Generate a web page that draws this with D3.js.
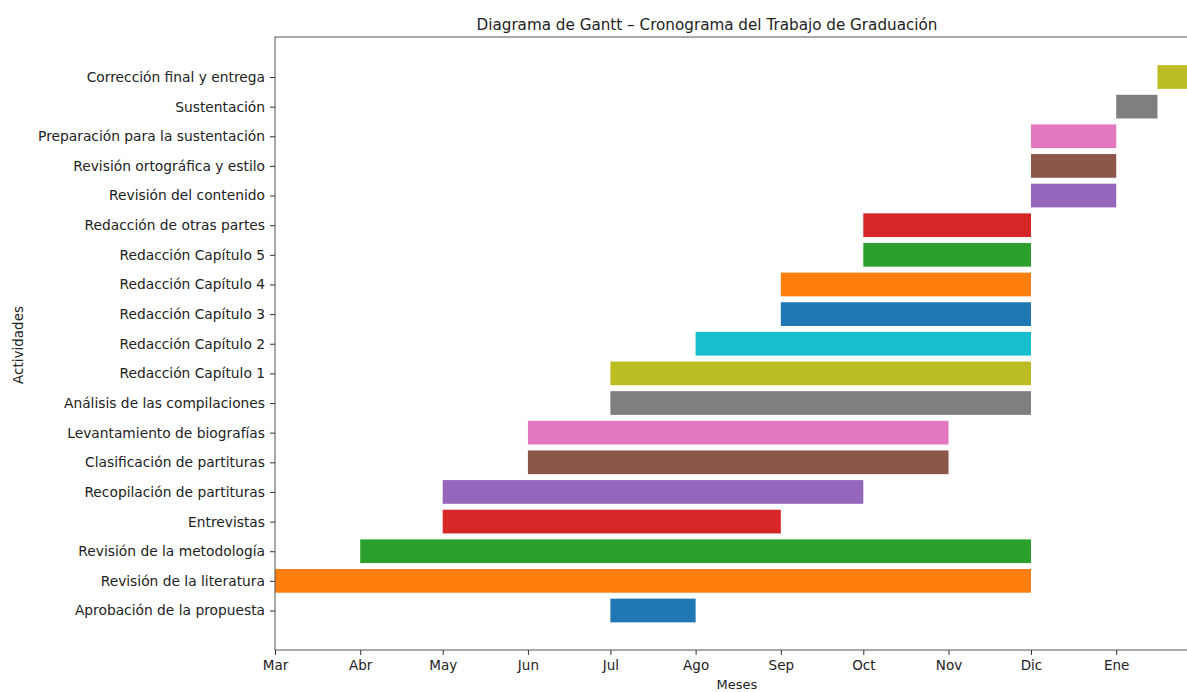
<!doctype html>
<html>
<head>
  <meta charset="utf8">
  <title>gantt</title>
  <style>
    body { margin: 0; padding: 0; background: #fff; overflow: hidden; }
    svg { display: block; font-family: 'DejaVu Sans', sans-serif; }
  </style>
</head>
<body>
  <svg></svg>
  <script src="https://d3js.org/d3.v7.min.js"></script>
  <script>
    // activities, bottom to top
    const tasks = [
      'Aprobación de la propuesta',
      'Revisión de la literatura',
      'Revisión de la metodología',
      'Entrevistas',
      'Recopilación de partituras',
      'Clasificación de partituras',
      'Levantamiento de biografías',
      'Análisis de las compilaciones',
      'Redacción Capítulo 1',
      'Redacción Capítulo 2',
      'Redacción Capítulo 3',
      'Redacción Capítulo 4',
      'Redacción Capítulo 5',
      'Redacción de otras partes',
      'Revisión del contenido',
      'Revisión ortográfica y estilo',
      'Preparación para la sustentación',
      'Sustentación',
      'Corrección final y entrega'
    ]
    const starts = [
      '2023-07-01', '2023-03-01', '2023-04-01', '2023-05-01', '2023-05-01',
      '2023-06-01', '2023-06-01', '2023-07-01', '2023-07-01', '2023-08-01',
      '2023-09-01', '2023-09-01', '2023-10-01', '2023-10-01', '2023-12-01',
      '2023-12-01', '2023-12-01', '2024-01-01', '2024-01-16'
    ]
    const ends = [
      '2023-08-01', '2023-12-01', '2023-12-01', '2023-09-01', '2023-10-01',
      '2023-11-01', '2023-11-01', '2023-12-01', '2023-12-01', '2023-12-01',
      '2023-12-01', '2023-12-01', '2023-12-01', '2023-12-01', '2024-01-01',
      '2024-01-01', '2024-01-01', '2024-01-16', '2024-01-31'
    ]
    const monthTicks = ['2023-03-01', '2023-04-01', '2023-05-01', '2023-06-01', '2023-07-01',
      '2023-08-01', '2023-09-01', '2023-10-01', '2023-11-01', '2023-12-01', '2024-01-01']
    const monthLabels = ['Mar', 'Abr', 'May', 'Jun', 'Jul', 'Ago', 'Sep', 'Oct', 'Nov', 'Dic', 'Ene']

    const width = 1187
    const height = 692
    const parse = d3.timeParse('%Y-%m-%d')

    const plotLeft = 275, plotTop = 37, plotBottom = 650
    const x = d3.scaleTime()
      .domain([parse('2023-03-01'), parse('2023-12-01')])
      .range([plotLeft, 1031])
    const plotRight = x(parse('2024-02-01'))

    const y = d3.scaleLinear()
      .domain([0, tasks.length - 1])
      .range([610.5, 77])
    const barH = 0.8 * (y(0) - y(1))

    const color = d3.scaleOrdinal(d3.schemeCategory10)

    const svg = d3.select('svg')
      .attr('width', width)
      .attr('height', height)

    const rows = tasks.map((t, i) => ({ t, i, s: parse(starts[i]), e: parse(ends[i]) }))

    svg.append('g').selectAll('rect')
      .data(rows)
      .join('rect')
      .attr('x', d => x(d.s))
      .attr('y', d => y(d.i) - barH / 2)
      .attr('width', d => x(d.e) - x(d.s))
      .attr('height', barH)
      .attr('fill', d => color(d.i % 10))

    // frame
    svg.append('rect')
      .attr('x', plotLeft).attr('y', plotTop)
      .attr('width', plotRight - plotLeft).attr('height', plotBottom - plotTop)
      .attr('fill', 'none').attr('stroke', '#555').attr('stroke-width', 1)

    const xAxis = d3.axisBottom(x)
      .tickValues(monthTicks.map(parse))
      .tickFormat((d, i) => monthLabels[i])
      .tickSize(5).tickPadding(5)
    const gx = svg.append('g').attr('transform', `translate(0,${plotBottom})`).call(xAxis)
    gx.select('.domain').remove()
    gx.selectAll('.tick text').style('font-size', '13.5px')

    const yAxis = d3.axisLeft(y)
      .tickValues(d3.range(tasks.length))
      .tickFormat(i => tasks[i])
      .tickSize(5).tickPadding(5)
    const gy = svg.append('g').attr('transform', `translate(${plotLeft},0)`).call(yAxis)
    gy.select('.domain').remove()
    gy.selectAll('.tick text').style('font-size', '13.8px')

    svg.selectAll('.tick line').attr('stroke', '#333')
    svg.selectAll('.tick text')
      .attr('fill', '#222')
      .style('font-family', "'DejaVu Sans', sans-serif")

    svg.append('text')
      .attr('x', 707).attr('y', 30)
      .attr('text-anchor', 'middle')
      .style('font-size', '15.2px')
      .attr('fill', '#222')
      .text('Diagrama de Gantt – Cronograma del Trabajo de Graduación')

    svg.append('text')
      .attr('x', 737).attr('y', 689)
      .attr('text-anchor', 'middle')
      .style('font-size', '13px')
      .attr('fill', '#222')
      .text('Meses')

    svg.append('text')
      .attr('transform', 'translate(23,345) rotate(-90)')
      .attr('text-anchor', 'middle')
      .style('font-size', '13.5px')
      .attr('fill', '#222')
      .text('Actividades')
  </script>
</body>
</html>
